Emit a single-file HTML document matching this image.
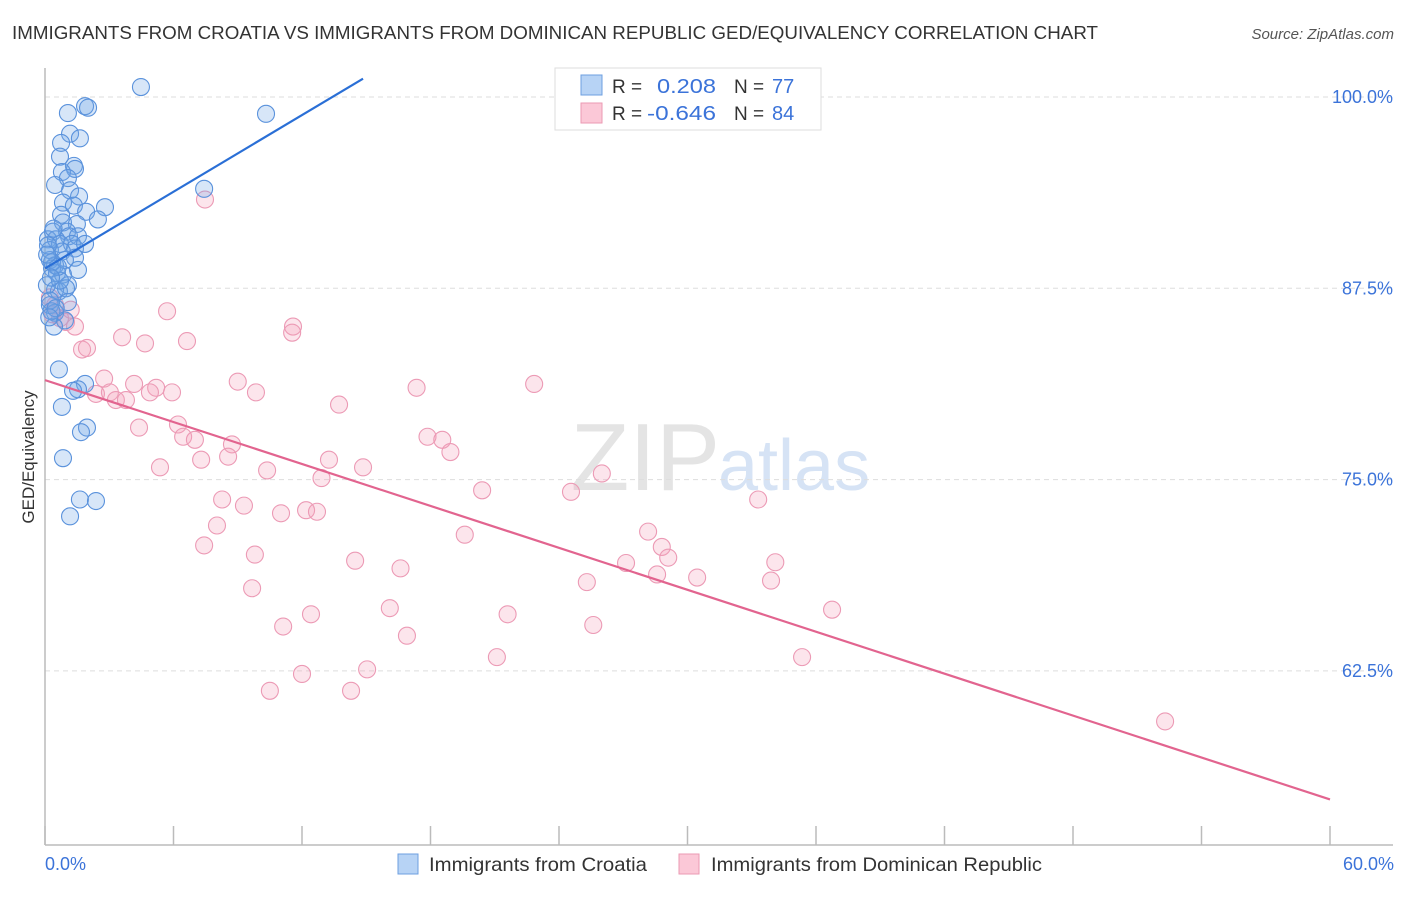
<!DOCTYPE html>
<html><head><meta charset="utf-8"><style>
body{margin:0;background:#fff;font-family:"Liberation Sans",sans-serif;}
svg text{font-family:"Liberation Sans",sans-serif;}
</style></head><body>
<svg id="chart" width="1406" height="892" xmlns="http://www.w3.org/2000/svg">
<text x="12" y="39" font-size="18" fill="#333" textLength="1086" lengthAdjust="spacingAndGlyphs">IMMIGRANTS FROM CROATIA VS IMMIGRANTS FROM DOMINICAN REPUBLIC GED/EQUIVALENCY CORRELATION CHART</text>
<text x="1394" y="39" font-size="15" font-style="italic" fill="#555" text-anchor="end">Source: ZipAtlas.com</text>
<text x="720" y="490" font-size="96" fill="#e4e4e4" text-anchor="end" font-family="Liberation Serif">ZIP</text>
<text x="718" y="490" font-size="72" fill="#d6e3f5">atlas</text>
<g id="grid"></g>
<g id="axes"></g>
<g id="marks"></g>
<text transform="translate(34,457) rotate(-90)" font-size="17" fill="#333" text-anchor="middle">GED/Equivalency</text>
<text x="45" y="870" font-size="18" fill="#3b73d9">0.0%</text>
<text x="1394" y="870" font-size="18" fill="#3b73d9" text-anchor="end">60.0%</text>
<g>
<rect x="398" y="854" width="20" height="20" fill="#b7d3f5" stroke="#6d9fe0"/>
<text x="429" y="871" font-size="19.5" fill="#333" textLength="218" lengthAdjust="spacingAndGlyphs">Immigrants from Croatia</text>
<rect x="679" y="854" width="20" height="20" fill="#fbc8d7" stroke="#eb9ab3"/>
<text x="711" y="871" font-size="19.5" fill="#333" textLength="331" lengthAdjust="spacingAndGlyphs">Immigrants from Dominican Republic</text>
</g>
<g>
<rect x="555" y="68" width="266" height="62" fill="#fff" stroke="#ddd"/>
<rect x="581" y="75" width="21" height="20" fill="#b7d3f5" stroke="#6d9fe0"/>
<rect x="581" y="103" width="21" height="20" fill="#fbc8d7" stroke="#eb9ab3"/>
<text x="612" y="93" font-size="19" fill="#333">R =</text><text x="657" y="93" font-size="20" fill="#3b73d9" textLength="59" lengthAdjust="spacingAndGlyphs">0.208</text>
<text x="734" y="93" font-size="19" fill="#333">N =</text><text x="772" y="93" font-size="20" fill="#3b73d9">77</text>
<text x="612" y="120" font-size="19" fill="#333">R =</text><text x="647" y="120" font-size="20" fill="#3b73d9" textLength="69" lengthAdjust="spacingAndGlyphs">-0.646</text>
<text x="734" y="120" font-size="19" fill="#333">N =</text><text x="772" y="120" font-size="20" fill="#3b73d9">84</text>
</g>
</svg>
<script>
const yTicks=[100,87.5,75,62.5];
const yTickLabels=["100.0%","87.5%","75.0%","62.5%"];
const xTicks=[0,6,12,18,24,30,36,42,48,54,60];
const blueX=[4.48,1.87,2.01,1.07,10.32,1.17,1.63,0.75,0.70,1.35,1.40,0.79,1.07,0.47,1.17,7.43,1.59,0.84,1.35,2.80,1.92,0.75,2.47,0.84,1.49,0.37,1.03,1.12,1.54,0.14,0.51,0.70,1.26,1.40,0.23,0.79,0.23,0.47,1.54,0.33,0.56,0.84,1.07,0.47,0.65,0.98,1.07,0.23,0.47,0.93,0.42,0.65,1.87,1.54,1.31,0.79,1.96,1.68,0.84,1.63,2.38,1.17,0.14,0.33,0.09,0.70,0.23,1.40,1.87,0.93,0.30,0.50,0.20,0.60,0.10,0.40,0.28];
const blueY=[100.65,99.4,99.3,98.95,98.9,97.6,97.3,97.0,96.1,95.5,95.3,95.1,94.7,94.25,93.9,94.0,93.5,93.1,92.9,92.8,92.5,92.3,92.0,91.8,91.7,91.2,91.2,90.9,90.9,90.7,90.7,90.4,90.4,90.1,90.0,89.9,89.35,89.0,88.7,88.8,88.5,88.4,87.7,87.4,87.3,87.5,86.6,86.4,85.9,85.4,85.0,82.2,81.25,80.9,80.8,79.75,78.4,78.1,76.4,73.7,73.6,72.6,90.3,89.2,87.7,88.0,86.7,89.5,90.4,89.35,86.0,86.2,85.6,88.9,89.7,91.4,88.2];
const pinkX=[7.47,5.70,11.58,11.54,0.23,0.47,0.70,0.98,1.40,3.60,4.67,6.63,1.73,1.96,2.76,4.16,5.19,5.93,9.0,9.85,17.35,22.84,2.38,3.03,3.31,3.78,4.90,13.73,4.39,6.21,6.45,7.0,8.73,8.55,7.29,17.86,18.55,18.93,5.37,10.37,13.26,14.85,12.91,26.0,20.41,24.56,33.3,8.27,9.29,11.02,12.19,12.7,8.03,19.6,28.16,7.43,9.8,28.8,29.1,14.48,16.6,27.13,34.1,28.58,30.45,25.3,33.9,9.67,16.1,21.6,36.75,11.12,12.42,25.6,16.9,21.1,35.35,15.04,12.0,10.5,14.29,52.3,0.35,1.2];
const pinkY=[93.3,86.0,85.0,84.6,86.9,86.4,85.55,85.3,85.0,84.3,83.9,84.05,83.5,83.6,81.6,81.25,81.0,80.7,81.4,80.7,81.0,81.25,80.6,80.7,80.2,80.2,80.7,79.9,78.4,78.6,77.8,77.6,77.3,76.5,76.3,77.8,77.6,76.8,75.8,75.6,76.3,75.8,75.1,75.4,74.3,74.2,73.7,73.7,73.3,72.8,73.0,72.9,72.0,71.4,71.6,70.7,70.1,70.6,69.9,69.7,69.2,69.55,69.6,68.8,68.6,68.3,68.4,67.9,66.6,66.2,66.5,65.4,66.2,65.5,64.8,63.4,63.4,62.6,62.3,61.2,61.2,59.2,85.8,86.1];
const blueTrend=[[0,88.8],[14.85,101.2]];
const pinkTrend=[[0,81.5],[60,54.1]];
const NS="http://www.w3.org/2000/svg";
const x0=45,x1=1330,yTop=97,pxPerPct=15.304;
function xs(v){return x0+(v/60)*(x1-x0);}
function ys(v){return yTop+(100-v)*pxPerPct;}
function mk(tag,attrs,parent){const e=document.createElementNS(NS,tag);for(const k in attrs)e.setAttribute(k,attrs[k]);parent.appendChild(e);return e;}
const grid=document.getElementById('grid'),axes=document.getElementById('axes'),marks=document.getElementById('marks');
yTicks.forEach((t,i)=>{
  const l=mk('line',{x1:45,x2:1393,y1:ys(t),y2:ys(t),stroke:'#ddd','stroke-dasharray':'5,4'},grid);
  
  
  const tx=mk('text',{x:1393,y:ys(t)+6,'font-size':18,fill:'#3b73d9','text-anchor':'end'},grid);
  tx.textContent=yTickLabels[i];
  
  
});
const ya=mk('line',{x1:45,x2:45,y1:68,y2:845,stroke:'#bbb','stroke-width':1.5},axes);


const xa=mk('line',{x1:45,x2:1393,y1:845,y2:845,stroke:'#bbb','stroke-width':1.5},axes);


xTicks.forEach(t=>{
  const tk=mk('line',{x1:xs(t),x2:xs(t),y1:826,y2:845,stroke:'#bbb','stroke-width':1.5},axes);
  
  
});
function pts(X,Y,fill,stroke,name){
  X.forEach((v,i)=>{
    const c=mk('circle',{cx:xs(v),cy:ys(Y[i]),r:8.5,fill:fill,stroke:stroke,'stroke-width':1.1},marks);
    
    
  });
}
pts(pinkX,pinkY,'rgba(244,160,188,0.28)','#ec9ab5','dominican-point');
pts(blueX,blueY,'rgba(110,165,230,0.28)','#5a92dc','croatia-point');
const bl=mk('line',{x1:xs(blueTrend[0][0]),y1:ys(blueTrend[0][1]),x2:xs(blueTrend[1][0]),y2:ys(blueTrend[1][1]),stroke:'#2a6fd6','stroke-width':2.2},marks);


const pl=mk('line',{x1:xs(pinkTrend[0][0]),y1:ys(pinkTrend[0][1]),x2:xs(pinkTrend[1][0]),y2:ys(pinkTrend[1][1]),stroke:'#e2648f','stroke-width':2.2},marks);


</script>
</body></html>
